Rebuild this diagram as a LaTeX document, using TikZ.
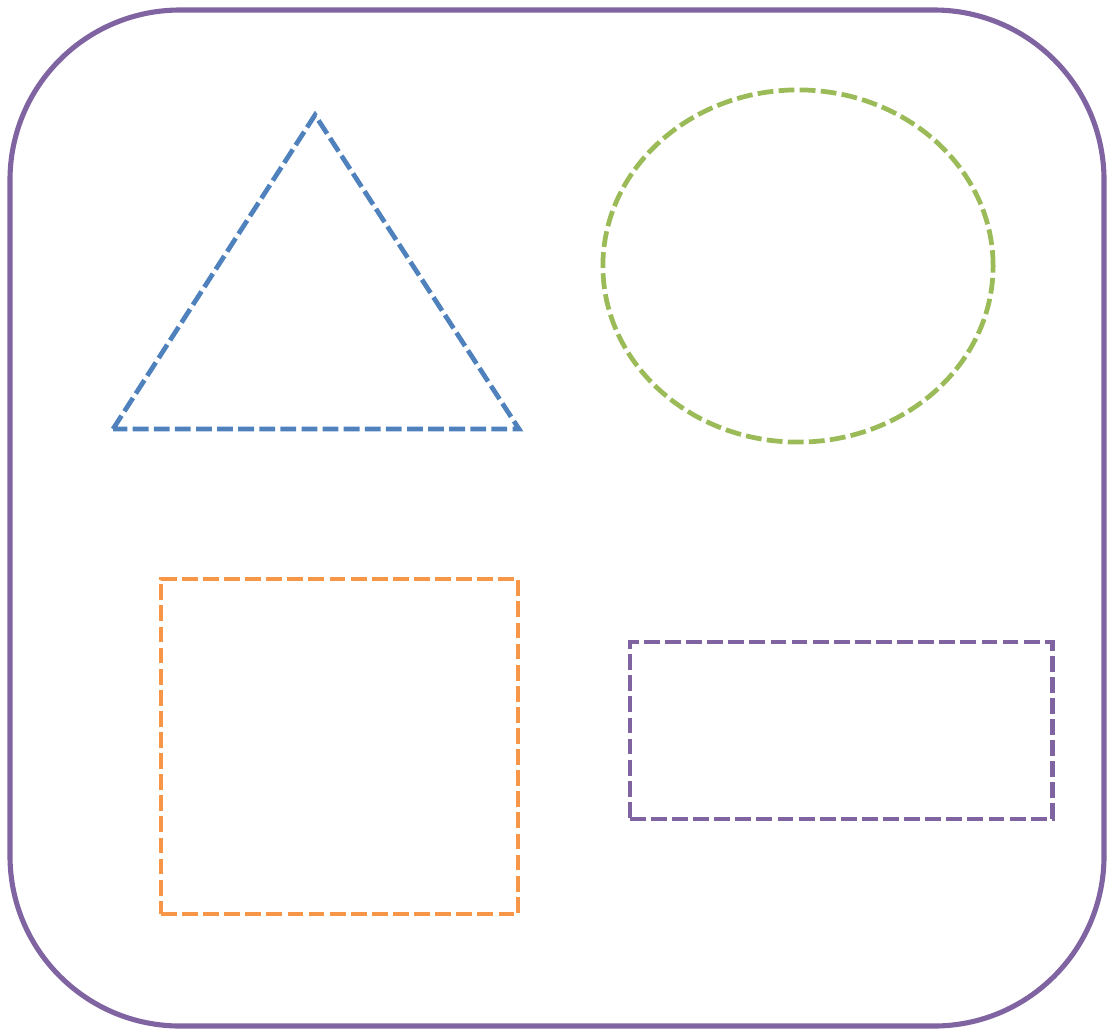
\documentclass[tikz,border=0pt]{standalone}
\usepackage{tikz}
\usetikzlibrary{shapes.geometric, positioning, calc}
\definecolor{frameViolet}{RGB}{128, 100, 162}
\definecolor{shapeBlue}{RGB}{79, 129, 189}
\definecolor{shapeGreen}{RGB}{155, 187, 89}
\definecolor{shapeOrange}{RGB}{247, 150, 70}
\definecolor{shapeViolet}{RGB}{128, 100, 162}

\begin{document}
\begin{tikzpicture}[
    x=0.01cm, y=-0.01cm,
    frame/.style={draw=frameViolet, line width=1.45pt, rounded corners=1.7cm},
    outline/.style={line width=1.35pt, dash pattern=on 4.5pt off 1.5pt},
    blob/.style={ellipse, outline, draw=shapeGreen, minimum width=3.9cm, minimum height=3.52cm, inner sep=0pt},
    box/.style={rectangle, outline, inner sep=0pt}
]
    \useasboundingbox (0,0) rectangle (1107,1030);

    % Outer frame
    \draw[frame] (10,10) rectangle (1104,1026);

    % Triangle (top left)
    \coordinate (apex) at (315,115);
    \coordinate (baseL) at (113,429);
    \coordinate (baseR) at (519,429);
    \draw[outline, draw=shapeBlue] (baseL) -- (apex) -- (baseR) -- cycle;

    % Ellipse (top right)
    \node[blob] (oval) at (798,266) {};

    % Rectangles (bottom row)
    \node[box, draw=shapeOrange, minimum width=3.57cm, minimum height=3.35cm] (square) at (339.5,746.5) {};
    \node[box, draw=shapeViolet, minimum width=4.22cm, minimum height=1.77cm] (strip) at (841,730.5) {};
\end{tikzpicture}
\end{document}
